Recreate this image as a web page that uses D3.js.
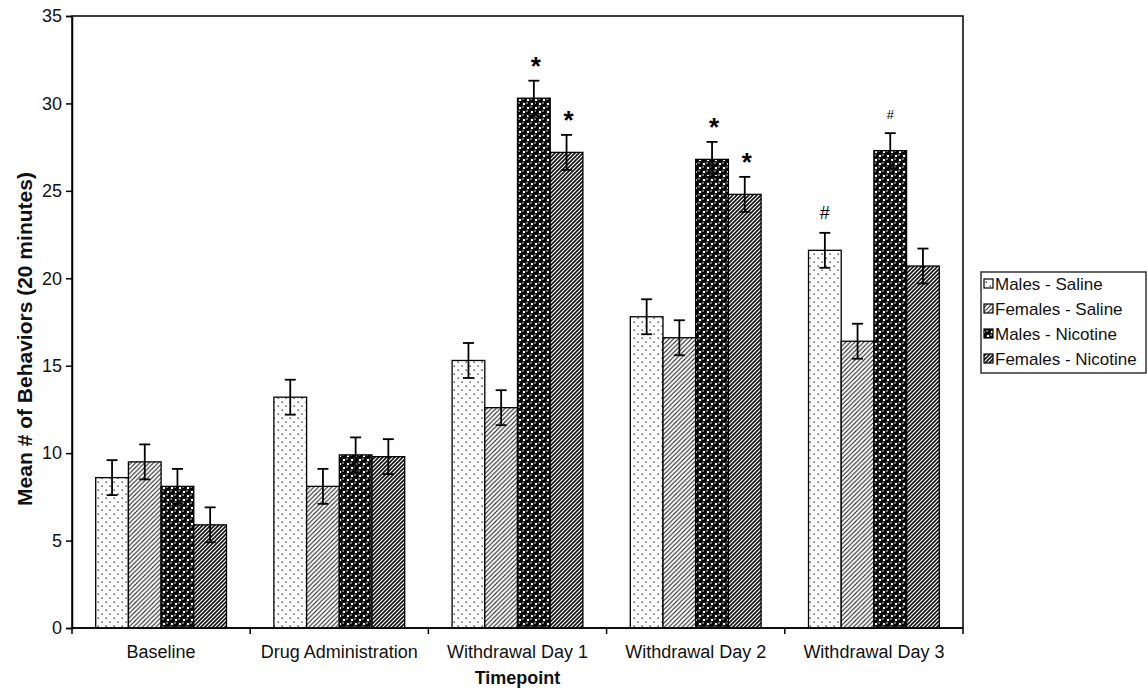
<!DOCTYPE html>
<html><head><meta charset="utf-8">
<script src="https://cdn.jsdelivr.net/npm/d3@7"></script>
<style>
html,body{margin:0;padding:0;background:#fff;}
svg{display:block;font-family:"Liberation Sans",Arial,Helvetica,sans-serif;}
</style></head>
<body>
<svg id="chart" width="1147" height="690"></svg>
<script>
const categories = ["Baseline","Drug Administration","Withdrawal Day 1","Withdrawal Day 2","Withdrawal Day 3"];
const seriesNames = ["Males - Saline","Females - Saline","Males - Nicotine","Females - Nicotine"];
const malesSaline     = [8.6, 13.2, 15.3, 17.8, 21.6];
const femalesSaline   = [9.5, 8.1, 12.6, 16.6, 16.4];
const malesNicotine   = [8.1, 9.9, 30.3, 26.8, 27.3];
const femalesNicotine = [5.9, 9.8, 27.2, 24.8, 20.7];
const errMalesSaline     = [1.0, 1.0, 1.0, 1.0, 1.0];
const errFemalesSaline   = [1.0, 1.0, 1.0, 1.0, 1.0];
const errMalesNicotine   = [1.0, 1.0, 1.0, 1.0, 1.0];
const errFemalesNicotine = [1.0, 1.0, 1.0, 1.0, 1.0];
const yTicks = [0,5,10,15,20,25,30,35];
const annotations = [
  {cat:"Withdrawal Day 1", series:"Males - Nicotine", text:"*", big:true},
  {cat:"Withdrawal Day 1", series:"Females - Nicotine", text:"*", big:true},
  {cat:"Withdrawal Day 2", series:"Males - Nicotine", text:"*", big:true},
  {cat:"Withdrawal Day 2", series:"Females - Nicotine", text:"*", big:true},
  {cat:"Withdrawal Day 3", series:"Males - Saline", text:"#", big:true},
  {cat:"Withdrawal Day 3", series:"Males - Nicotine", text:"#", big:false}
];

const values = [malesSaline, femalesSaline, malesNicotine, femalesNicotine];
const errors = [errMalesSaline, errFemalesSaline, errMalesNicotine, errFemalesNicotine];
const patIds = ["pMS","pFS","pMN","pFN"];

const svg = d3.select("#chart");
const L = 72, R = 963, T = 16, B = 628;

const defs = svg.append("defs");
// Males saline: sparse dots
let p = defs.append("pattern").attr("id","pMS").attr("patternUnits","userSpaceOnUse").attr("width",8).attr("height",8);
p.append("rect").attr("width",8).attr("height",8).attr("fill","#fff");
p.append("rect").attr("x",1.5).attr("y",1.5).attr("width",1.3).attr("height",1.3).attr("fill","#222");
p.append("rect").attr("x",5.5).attr("y",5.5).attr("width",1.3).attr("height",1.3).attr("fill","#222");
// Females saline: light diagonal hatch
p = defs.append("pattern").attr("id","pFS").attr("patternUnits","userSpaceOnUse").attr("width",4.5).attr("height",4.5);
p.append("rect").attr("width",4.5).attr("height",4.5).attr("fill","#fff");
p.append("path").attr("d","M0,4.5 L4.5,0 M-1,1 L1,-1 M3.5,5.5 L5.5,3.5").attr("stroke","#111").attr("stroke-width",1);
// Males nicotine: spheres
p = defs.append("pattern").attr("id","pMN").attr("patternUnits","userSpaceOnUse").attr("width",8).attr("height",8);
p.append("rect").attr("width",8).attr("height",8).attr("fill","#fff");
[[0,0],[8,0],[0,8],[8,8],[4,4]].forEach(([cx,cy])=>{
  p.append("circle").attr("cx",cx).attr("cy",cy).attr("r",2.95).attr("fill","#000");
  p.append("circle").attr("cx",cx-0.9).attr("cy",cy-0.9).attr("r",0.8).attr("fill","#ddd");
});
// Females nicotine: dense diagonal hatch
p = defs.append("pattern").attr("id","pFN").attr("patternUnits","userSpaceOnUse").attr("width",4).attr("height",4);
p.append("rect").attr("width",4).attr("height",4).attr("fill","#fff");
p.append("path").attr("d","M0,4 L4,0 M-1,1 L1,-1 M3,5 L5,3").attr("stroke","#111").attr("stroke-width",1.6);

const x0 = d3.scaleBand().domain(categories).range([L,R]).paddingInner(0).paddingOuter(0);
const x1 = d3.scaleBand().domain(seriesNames).range([0,x0.bandwidth()]).paddingInner(0).paddingOuter(0.725);
const y = d3.scaleLinear().domain([0,35]).range([B,T]);

// frame
svg.append("rect").attr("x",L).attr("y",T).attr("width",R-L).attr("height",B-T)
  .attr("fill","none").attr("stroke","#000").attr("stroke-width",1.5);

// bars
const g = svg.append("g");
categories.forEach((c,ci)=>{
  seriesNames.forEach((s,si)=>{
    const v = values[si][ci];
    g.append("rect").attr("x",x0(c)+x1(s)).attr("y",y(v))
      .attr("width",x1.bandwidth()).attr("height",y(0)-y(v))
      .attr("fill",`url(#${patIds[si]})`).attr("stroke","#000").attr("stroke-width",1.3);
  });
});
// error bars
categories.forEach((c,ci)=>{
  seriesNames.forEach((s,si)=>{
    const v = values[si][ci], e = errors[si][ci];
    const cx = x0(c)+x1(s)+x1.bandwidth()/2;
    g.append("line").attr("x1",cx).attr("x2",cx).attr("y1",y(v+e)).attr("y2",y(v-e)).attr("stroke","#000").attr("stroke-width",1.8);
    [v+e, v-e].forEach(w=>{
      g.append("line").attr("x1",cx-5.5).attr("x2",cx+5.5).attr("y1",y(w)).attr("y2",y(w)).attr("stroke","#000").attr("stroke-width",1.8);
    });
  });
});
// annotations
annotations.forEach(a=>{
  const si = seriesNames.indexOf(a.series), ci = categories.indexOf(a.cat);
  const v = values[si][ci] + errors[si][ci];
  const cx = x0(a.cat)+x1(a.series)+x1.bandwidth()/2;
  if (a.text === "*") {
    svg.append("text").attr("x",cx+2).attr("y",y(v)-6).attr("text-anchor","middle")
      .attr("font-size",26).attr("font-weight","bold").text(a.text);
  } else {
    svg.append("text").attr("x",cx).attr("y",y(v)-14).attr("text-anchor","middle")
      .attr("font-size",a.big?18:13).text(a.text);
  }
});

// y axis
const yAxis = svg.append("g").attr("transform",`translate(${L},0)`)
  .call(d3.axisLeft(y).tickValues(yTicks).tickSize(6).tickPadding(4).tickFormat(d3.format("d")));
yAxis.select(".domain").attr("stroke-width",1.5);
yAxis.selectAll(".tick line").attr("stroke-width",1.5);
yAxis.selectAll("text").attr("font-size",18).attr("fill","#111").attr("font-family","Liberation Sans, Arial, sans-serif");

// x axis: ticks at category boundaries
const xg = svg.append("g").attr("transform",`translate(0,${B})`);
xg.append("line").attr("x1",L).attr("x2",R).attr("stroke","#000").attr("stroke-width",1.5);
const bounds = categories.map(c=>x0(c)).concat([x0(categories[categories.length-1])+x0.bandwidth()]);
xg.selectAll("line.tk").data(bounds).enter().append("line").attr("class","tk")
  .attr("x1",d=>d).attr("x2",d=>d).attr("y1",0).attr("y2",6).attr("stroke","#000").attr("stroke-width",1.5);
xg.selectAll("text").data(categories).enter().append("text")
  .attr("x",d=>x0(d)+x0.bandwidth()/2).attr("y",30).attr("text-anchor","middle")
  .attr("font-size",18).attr("fill","#111").text(d=>d);

// axis titles
svg.append("text").attr("x",(L+R)/2).attr("y",684).attr("text-anchor","middle")
  .attr("font-size",18).attr("font-weight","bold").attr("fill","#111").text("Timepoint");
svg.append("text").attr("transform",`translate(32,339) rotate(-90)`).attr("text-anchor","middle")
  .attr("font-size",21).attr("font-weight","bold").attr("fill","#111").text("Mean # of Behaviors (20 minutes)");

// legend
const lg = svg.append("g");
lg.append("rect").attr("x",981).attr("y",272).attr("width",165).attr("height",101)
  .attr("fill","#fff").attr("stroke","#333").attr("stroke-width",1.5);
seriesNames.forEach((s,i)=>{
  const cy = 284 + i*25;
  lg.append("rect").attr("x",984).attr("y",cy-5).attr("width",9).attr("height",9)
    .attr("fill",`url(#${patIds[i]})`).attr("stroke","#000").attr("stroke-width",1.2);
  lg.append("text").attr("x",995).attr("y",cy+6).attr("font-size",17).attr("fill","#111").text(s);
});
</script>
</body></html>
